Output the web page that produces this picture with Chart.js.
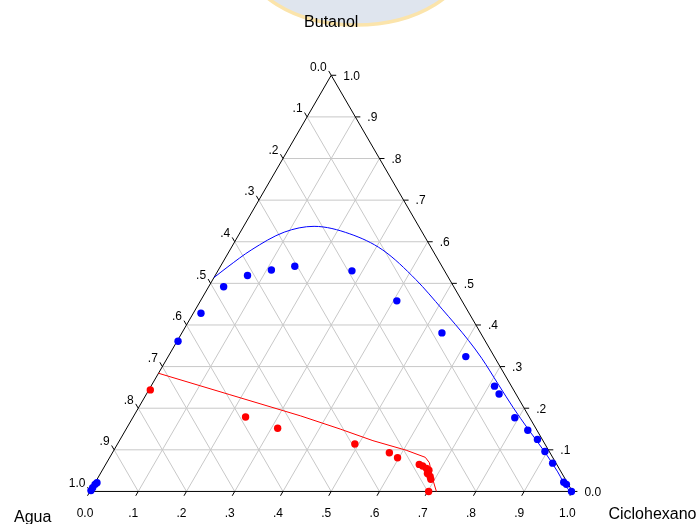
<!DOCTYPE html>
<html>
<head>
<meta charset="utf-8">
<script src="https://cdn.jsdelivr.net/npm/chart.js@4/dist/chart.umd.min.js"></script>
<style>
  html, body { margin: 0; padding: 0; background: #ffffff; }
  canvas { display: block; }
</style>
</head>
<body>
<canvas id="c" width="699" height="524"></canvas>
<script>
// Ternary phase diagram: Agua / Butanol / Ciclohexano (mass fractions)
const componentNames = ['Agua', 'Butanol', 'Ciclohexano'];
const tickLabels = ['0.0', '.1', '.2', '.3', '.4', '.5', '.6', '.7', '.8', '.9', '1.0'];

// Measured compositions, blue set (fraction butanol, fraction ciclohexano)
const blueButanol     = [0.361, 0.428, 0.492, 0.519, 0.532, 0.541, 0.530, 0.458, 0.381, 0.324, 0.253, 0.234, 0.177, 0.147, 0.125, 0.096, 0.068, 0.022, 0.017, 0.000, 0.002, 0.009, 0.017, 0.021];
const blueCiclohexano = [0.002, 0.016, 0.031, 0.067, 0.110, 0.154, 0.278, 0.407, 0.539, 0.617, 0.712, 0.731, 0.792, 0.834, 0.865, 0.895, 0.925, 0.971, 0.979, 0.998, 0.001, 0.001, 0.002, 0.004];

// Measured compositions, red set
const redButanol     = [0.244, 0.179, 0.152, 0.114, 0.093, 0.081, 0.065, 0.061, 0.055, 0.051, 0.043, 0.036, 0.029, 0.000];
const redCiclohexano = [0.003, 0.233, 0.313, 0.492, 0.574, 0.597, 0.650, 0.659, 0.670, 0.677, 0.678, 0.687, 0.692, 0.702];

// Blue boundary curve
const blueCurveButanol     = [0.514, 0.540, 0.580, 0.623, 0.637, 0.619, 0.580, 0.509, 0.438, 0.363, 0.320, 0.258, 0.201, 0.151, 0.095, 0.047, 0.007, 0.000];
const blueCurveCiclohexano = [0.000, 0.016, 0.044, 0.091, 0.146, 0.229, 0.317, 0.421, 0.511, 0.603, 0.652, 0.717, 0.777, 0.832, 0.895, 0.946, 0.986, 1.000];

// Red boundary curve
const redCurveButanol     = [0.284, 0.233, 0.1815, 0.150, 0.122, 0.099, 0.082, 0.069, 0.033, 0.000];
const redCurveCiclohexano = [0.000, 0.172, 0.346, 0.4435, 0.5255, 0.606, 0.654, 0.669, 0.693, 0.718];

const H = Math.sqrt(3) / 2;
// ternary (butanol, ciclohexano) -> cartesian, unit edge length
const toXY = (b, c) => ({ x: c + b / 2, y: b * H });
const pairs = (bs, cs) => bs.map((b, i) => toXY(b, cs[i]));

const FONT = '"Liberation Sans", Arial, Helvetica, sans-serif';

const ternaryFrame = {
  id: 'ternaryFrame',
  beforeDraw(chart) {
    // faint badge behind the top title
    const ctx = chart.ctx;
    ctx.save();
    ctx.beginPath();
    ctx.ellipse(356, -45, 112, 70, 0, 0, Math.PI * 2);
    ctx.fillStyle = '#dfe5ee';
    ctx.fill();
    ctx.lineWidth = 3.5;
    ctx.strokeStyle = '#fbe4ab';
    ctx.stroke();
    ctx.restore();
  },
  beforeDatasetsDraw(chart) {
    const ctx = chart.ctx;
    const xs = chart.scales.x, ys = chart.scales.y;
    const P = (b, c) => {
      const q = toXY(b, c);
      return [xs.getPixelForValue(q.x), ys.getPixelForValue(q.y)];
    };
    const seg = (p, q) => {
      ctx.beginPath();
      ctx.moveTo(p[0], p[1]);
      ctx.lineTo(q[0], q[1]);
      ctx.stroke();
    };
    ctx.save();
    // grid
    ctx.strokeStyle = '#c8c8c8';
    ctx.lineWidth = 1;
    for (let k = 1; k < 10; k++) {
      const t = k / 10;
      seg(P(t, 0), P(t, 1 - t));       // constant butanol
      seg(P(0, t), P(1 - t, t));       // constant ciclohexano
      seg(P(1 - t, 0), P(0, 1 - t));   // constant agua
    }
    // frame: agua corner, butanol apex, ciclohexano corner
    ctx.strokeStyle = '#000000';
    const vA = P(0, 0), vB = P(1, 0), vC = P(0, 1);
    ctx.beginPath();
    ctx.moveTo(vA[0], vA[1]); ctx.lineTo(vB[0], vB[1]); ctx.lineTo(vC[0], vC[1]); ctx.closePath();
    ctx.stroke();
    // ticks and labels
    const L = 5;
    ctx.fillStyle = '#000000';
    ctx.font = '12px ' + FONT;
    ctx.textBaseline = 'middle';
    for (let k = 0; k <= 10; k++) {
      const t = k / 10;
      // bottom: ciclohexano
      let p = P(0, t);
      seg(p, [p[0] - L * 0.5, p[1] + L * H]);
      ctx.textAlign = 'center';
      ctx.fillText(tickLabels[k], p[0] - 5, p[1] + 22);
      // left: agua
      p = P(1 - t, 0);
      seg(p, [p[0] - L * 0.5, p[1] - L * H]);
      ctx.textAlign = 'right';
      ctx.fillText(tickLabels[k], p[0] - 4.5, p[1] - 8);
      // right: butanol
      p = P(t, 1 - t);
      seg(p, [p[0] + L, p[1]]);
      ctx.textAlign = 'left';
      ctx.fillText(tickLabels[k], p[0] + 12, p[1] + 1);
    }
    // component names
    ctx.font = '16px ' + FONT;
    ctx.textAlign = 'center';
    ctx.fillText(componentNames[1], vB[0], vB[1] - 53);
    ctx.textAlign = 'left';
    ctx.fillText(componentNames[0], vA[0] - 76, vA[1] + 26);
    ctx.fillText(componentNames[2], vC[0] + 36, vC[1] + 23);
    ctx.restore();
  }
};

// scale ranges chosen so one unit of x equals one unit of y on screen
const W = 699, HT = 524, X0 = 87, Y0 = 495, EDGE = 488;

new Chart(document.getElementById('c'), {
  type: 'scatter',
  data: {
    datasets: [
      {
        label: 'blueCurve',
        data: pairs(blueCurveButanol, blueCurveCiclohexano),
        showLine: true, borderColor: '#0000ff', borderWidth: 1,
        pointRadius: 0, cubicInterpolationMode: 'monotone', clip: false
      },
      {
        label: 'redCurve',
        data: pairs(redCurveButanol, redCurveCiclohexano),
        showLine: true, borderColor: '#ff0000', borderWidth: 1,
        pointRadius: 0, tension: 0, clip: false
      },
      {
        label: 'blue',
        data: pairs(blueButanol, blueCiclohexano),
        backgroundColor: '#0000ff', borderWidth: 0, pointRadius: 3.7, clip: false
      },
      {
        label: 'red',
        data: pairs(redButanol, redCiclohexano),
        backgroundColor: '#ff0000', borderWidth: 0, pointRadius: 3.7, clip: false
      }
    ]
  },
  options: {
    responsive: false,
    devicePixelRatio: 1,
    animation: false,
    layout: { padding: 0 },
    plugins: { legend: { display: false }, tooltip: { enabled: false }, title: { display: false } },
    scales: {
      x: { type: 'linear', display: false, min: -X0 / EDGE, max: (W - X0) / EDGE },
      y: { type: 'linear', display: false, min: -(HT - Y0) / EDGE, max: Y0 / EDGE }
    }
  },
  plugins: [ternaryFrame]
});
</script>
</body>
</html>
